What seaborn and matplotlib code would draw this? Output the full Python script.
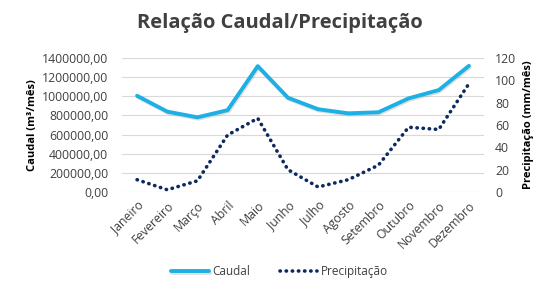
import pandas as pd
import seaborn as sns
import matplotlib.pyplot as plt
import matplotlib.patheffects as pe
from matplotlib.ticker import FuncFormatter

# dados
meses = ["Janeiro", "Fevereiro", "Março", "Abril", "Maio", "Junho", "Julho",
         "Agosto", "Setembro", "Outubro", "Novembro", "Dezembro"]
caudal = [1005000, 840000, 780000, 855000, 1315000, 985000, 865000,
          822000, 833000, 978000, 1065000, 1318000]
precipitacao = [11, 2, 10, 51, 66, 20, 4.5, 11, 24, 58, 56, 97]

df = pd.DataFrame({"Mes": meses, "Caudal": caudal, "Precipitacao": precipitacao})
df["x"] = range(len(meses))

sns.set_style("white")
plt.rcParams['font.family'] = ['Open Sans', 'DejaVu Sans']

fig = plt.figure(figsize=(5.59, 2.94), dpi=100)
ax = fig.add_axes([122/559, 1 - 192/294, (484-122)/559, (192-58)/294])
ax2 = ax.twinx()

sns.lineplot(data=df, x="x", y="Caudal", ax=ax, color="#1cb0e4", linewidth=2.8,
             label="Caudal", legend=False)
ax.lines[0].set_path_effects([pe.SimpleLineShadow(offset=(0.7, -1.0), alpha=0.18, shadow_color="#555555"),
                              pe.Normal()])
sns.lineplot(data=df, x="x", y="Precipitacao", ax=ax2, color="#0d2a5f", linewidth=2.6,
             linestyle=(0, (0.1, 1.6)), dash_capstyle="round", label="Precipitação", legend=False)

ax.set_xlim(-0.5, 11.5)
ax.set_ylim(0, 1400000)
ax2.set_ylim(0, 120)
ax.set_yticks(range(0, 1400001, 200000))
ax2.set_yticks(range(0, 121, 20))
ax.yaxis.set_major_formatter(FuncFormatter(lambda v, p: f"{v:.2f}".replace(".", ",")))
ax.set_xticks(df["x"])
ax.set_xticklabels(meses, rotation=45, ha="right", rotation_mode="anchor")
ax.grid(axis="y", color="#d9d9d9", linewidth=0.8)
ax.set_axisbelow(True)

for a in (ax, ax2):
    for s in a.spines.values():
        s.set_visible(False)
    a.tick_params(length=0, labelsize=8.8, colors="#404040")
ax.tick_params(axis="y", pad=10)
ax.tick_params(axis="x", pad=5)
ax2.tick_params(axis="y", pad=8)

ax.set_xlabel("")
ax.set_ylabel("Caudal (m³/mês)", fontsize=8, fontweight="bold", color="#000000", labelpad=3)
ax2.set_ylabel("Precipitação (mm/mês)", fontsize=8, fontweight="bold", color="#000000", labelpad=5)

fig.suptitle("Relação Caudal/Precipitação", x=0.5, y=0.955, fontsize=14.5, fontweight="bold",
             color="#404040")

h1, l1 = ax.get_legend_handles_labels()
h2, l2 = ax2.get_legend_handles_labels()
fig.legend(h1 + h2, l1 + l2, loc="center", bbox_to_anchor=(0.5, 0.075), ncol=2, frameon=False,
           fontsize=8.5, handlelength=3.2, handletextpad=0.3, columnspacing=2.5,
           labelcolor="#404040")

fig.savefig("out.png", dpi=100)
